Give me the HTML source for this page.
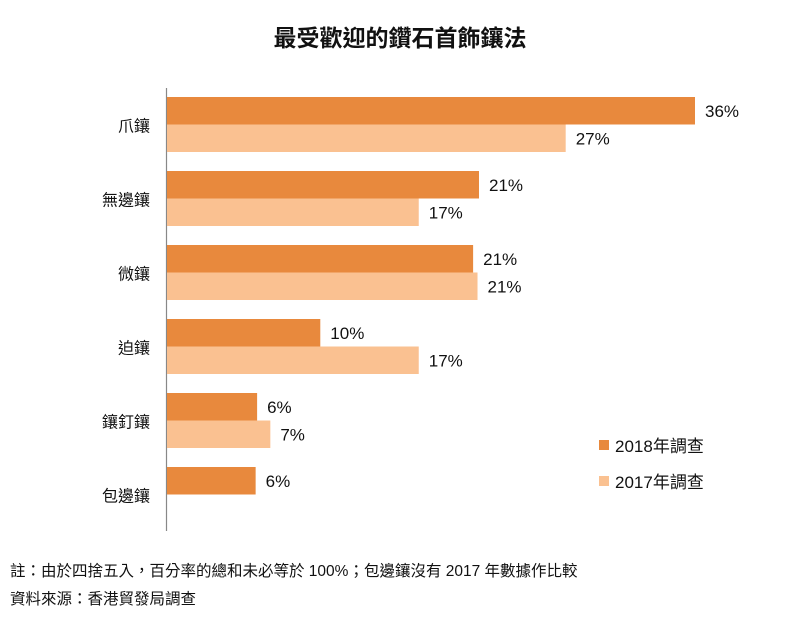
<!DOCTYPE html>
<html><head><meta charset="utf-8">
<style>
body{margin:0;background:#fff;font-family:"Liberation Sans","Noto Sans CJK TC",sans-serif;}
#wrap{position:relative;width:800px;height:623px;overflow:hidden;}
svg text{font-family:"Liberation Sans","Noto Sans CJK TC",sans-serif;}
</style></head>
<body>
<div id="wrap">
<svg id="chart" width="800" height="623">
<text x="400" y="46" text-anchor="middle" font-size="23" font-weight="bold" fill="#111">最受歡迎的鑽石首飾鑲法</text>
<line x1="166.5" y1="88" x2="166.5" y2="531" stroke="#888" stroke-width="1.2"/>
<g id="bars"></g>
<rect x="599" y="440" width="10" height="10" fill="#E8893D"/>
<text x="615" y="452" font-size="17" fill="#111">2018年調查</text>
<rect x="599" y="476" width="10" height="10" fill="#FAC191"/>
<text x="615" y="488" font-size="17" fill="#111">2017年調查</text>
<text x="10" y="576" font-size="15.5" fill="#111">註：由於四捨五入，百分率的總和未必等於 100%；包邊鑲沒有 2017 年數據作比較</text>
<text x="10" y="604" font-size="15.5" fill="#111">資料來源：香港貿發局調查</text>
</svg>
</div>
<script>
const categories = ["爪鑲","無邊鑲","微鑲","迫鑲","鑲釘鑲","包邊鑲"];
const values2018 = [36, 21.3, 20.9, 10.5, 6.2, 6.1];
const values2017 = [27.2, 17.2, 21.2, 17.2, 7.1, null];
const labels2018 = ["36%","21%","21%","10%","6%","6%"];
const labels2017 = ["27%","17%","21%","17%","7%",""];
const x0 = 166, pxPer = 529/36;
const xScale = v => x0 + v*pxPer;
const groupTop = i => 97 + i*74;
const barH = 27.5;
const NS = "http://www.w3.org/2000/svg";
const g = document.getElementById("bars");
function mk(tag, attrs){const e=document.createElementNS(NS,tag);for(const k in attrs)e.setAttribute(k,attrs[k]);return e;}
categories.forEach((c,i)=>{
  const t = groupTop(i);
  const lab = mk("text",{x:150,y:t+barH+7,"text-anchor":"end","font-size":16,fill:"#111"});
  lab.textContent = c;
  
  
  g.appendChild(lab);
  const series = [[values2018[i],labels2018[i],"#E8893D",0,'bar-2018'],[values2017[i],labels2017[i],"#FAC191",barH,'bar-2017']];
  series.forEach(([v,l,col,off,nm])=>{
    if(v==null) return;
    const r = mk("rect",{x:x0+1,y:t+off,width:xScale(v)-x0-1,height:barH,fill:col});
    
    
    g.appendChild(r);
    const tx = mk("text",{x:xScale(v)+10,y:t+off+barH/2+6,"font-size":17,fill:"#111"});
    tx.textContent = l;
    
    
    g.appendChild(tx);
  });
});
</script>
</body></html>
